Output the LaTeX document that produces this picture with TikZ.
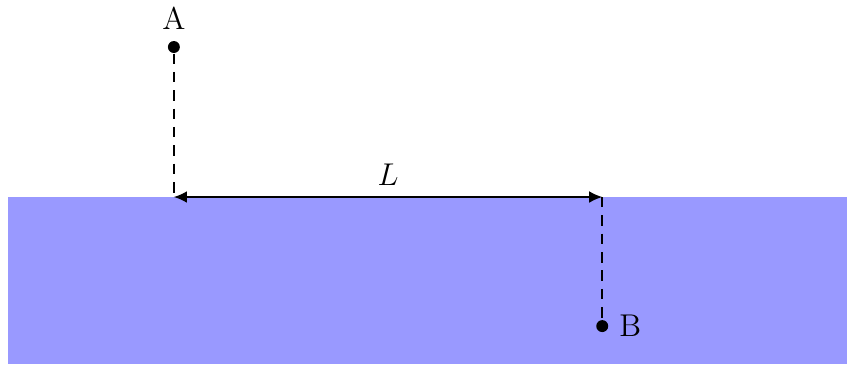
\documentclass[tikz,border=0pt]{standalone}
\usepackage{xcolor}
\usepackage{tikz}
\usetikzlibrary{arrows.meta}
\definecolor{waterblue}{HTML}{9999FF}

\begin{document}
\begin{tikzpicture}[font=\large,
    pt/.style={circle, fill=black, inner sep=0pt, minimum size=0.16cm},
    guide/.style={dash pattern=on 4pt off 3pt, line width=0.6pt}]
    \useasboundingbox (0,0) rectangle (11.35,4.88);
    % water
    \fill[waterblue] (0.107,0) rectangle (11.35,2.24);
    % points and surface marks
    \node[pt] (dotA) at (2.33,4.25) {};
    \node[pt] (dotB) at (8.07,0.51) {};
    \coordinate (surfA) at (2.33,2.24);
    \coordinate (surfB) at (8.07,2.24);
    \node[above=0.02cm] (labA) at (dotA.north) {A};
    \node[right=0.02cm] (labB) at (dotB.east) {B};
    \draw[guide] (dotA) -- (surfA);
    \draw[guide] (surfB) -- (dotB);
    \draw[{Latex[length=5pt,width=4.5pt]}-{Latex[length=5pt,width=4.5pt]}, line width=0.6pt]
      (surfA) -- (surfB) node[midway, above=0.03cm] (labL) {$L$};
  \end{tikzpicture}
\end{document}
